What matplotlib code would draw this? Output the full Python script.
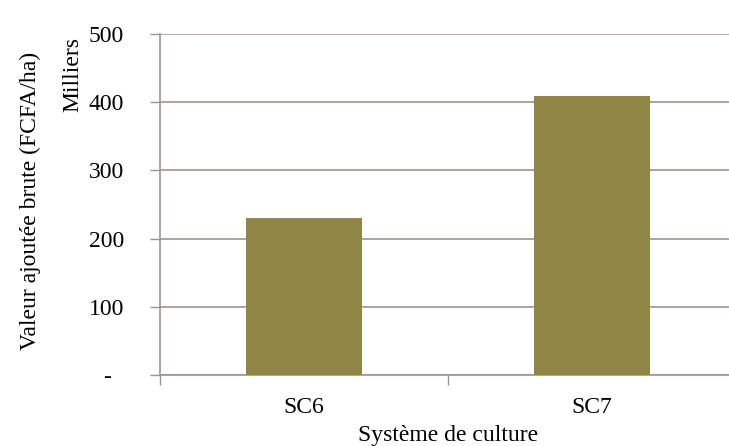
import matplotlib.pyplot as plt
import numpy as np

plt.rcParams['font.family'] = ['Liberation Serif', 'DejaVu Serif']

# donnees
systemes = ['SC6', 'SC7']
vab = [230, 409]  # milliers FCFA/ha
yticks = [0, 100, 200, 300, 400, 500]
ytick_labels = ['-  ', '100', '200', '300', '400', '500']

bar_col = '#8f8646'
grid_col = '#a39191'
fs = 17

fig = plt.figure(figsize=(7.29, 4.46), dpi=100)
ax = fig.add_axes([160/729, 1-375/446, 576/729, 341/446])

x = np.arange(len(systemes))
ax.bar(x, vab, width=0.4, color=bar_col, zorder=3)

ax.set_xlim(-0.5, 1.5)
ax.set_ylim(0, 500)
ax.set_yticks(yticks)
ax.set_yticklabels(ytick_labels, fontsize=fs)
ax.yaxis.grid(True, color=grid_col, linewidth=1.2, zorder=0)
ax.tick_params(axis='y', length=7, width=1, color=grid_col, pad=19)

ax.set_xticks(x)
ax.set_xticklabels(systemes, fontsize=fs)
ax.set_xticks([-0.5, 0.5, 1.5], minor=True)
ax.tick_params(axis='x', which='major', length=0, pad=16)
ax.tick_params(axis='x', which='minor', length=7, width=1, color=grid_col)

for s in ['top', 'right']:
    ax.spines[s].set_visible(False)
for s in ['left', 'bottom']:
    ax.spines[s].set_color(grid_col)
    ax.spines[s].set_linewidth(1.2)

fig.text(30/729, 1-201/446, 'Valeur ajoutée brute (FCFA/ha)', rotation=90,
         ha='center', va='center', fontsize=fs)
fig.text(73/729, 1-74/446, 'Milliers', rotation=90,
         ha='center', va='center', fontsize=fs)
fig.text(448/729, 1-435/446, 'Système de culture',
         ha='center', va='center', fontsize=fs)

fig.savefig('out.png', dpi=100)
